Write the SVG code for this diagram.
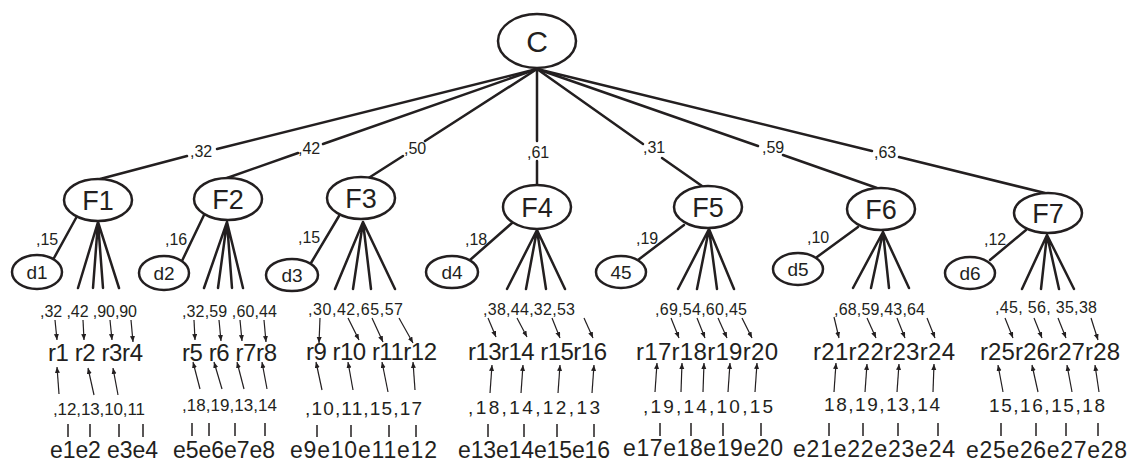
<svg xmlns="http://www.w3.org/2000/svg" width="1130" height="463" viewBox="0 0 1130 463">
<style>
  text { font-family: "Liberation Sans", Arial, sans-serif; fill: #231f20; }
  .node { fill: #fff; stroke: #231f20; stroke-width: 2.5; }
  .edge { stroke: #231f20; stroke-width: 2.5; fill: none; stroke-linecap: round; }
  .arr { stroke: #231f20; stroke-width: 1.2; fill: none; marker-end: url(#ah); }
  .tick { stroke: #231f20; stroke-width: 1.5; }
  .big { font-size: 30px; text-anchor: middle; }
  .fl { font-size: 27px; text-anchor: middle; }
  .dl { font-size: 19px; text-anchor: middle; }
  .el { font-size: 16px; }
  .w1 { font-size: 16px; }
  .rr { font-size: 24px; }
  .w2 { font-size: 17px; }
  .w3 { font-size: 19px; }
  .ee { font-size: 23px; }
</style>
<defs>
  <marker id="ah" markerUnits="userSpaceOnUse" markerWidth="7" markerHeight="6" refX="6" refY="2.5" orient="auto">
    <path d="M0,0 L6,2.5 L0,5 z" fill="#231f20"/>
  </marker>
</defs>

<g id="connectors">
  <!-- C to F -->
  <path class="edge" d="M537,69 L217,149 M187,156 L100,179"/>
  <path class="edge" d="M537,69 L323,144 M298,153 L227,178"/>
  <path class="edge" d="M537,69 L425,141 M403,156 L367,179"/>
  <path class="edge" d="M537,69 L537,141 M537,161 L537,185"/>
  <path class="edge" d="M537,69 L643,144 M662,158 L702,186"/>
  <path class="edge" d="M537,69 L758,146 M783,155 L877,188"/>
  <path class="edge" d="M537,69 L872,151 M899,157 L1045,193"/>
  <!-- F to d -->
  <path class="edge" d="M76,218 L54,258"/>
  <path class="edge" d="M204,215 L181,263"/>
  <path class="edge" d="M339,216 L311,263"/>
  <path class="edge" d="M512,223 L470,260"/>
  <path class="edge" d="M684,225 L638,260"/>
  <path class="edge" d="M858,227 L817,257"/>
  <path class="edge" d="M1026,230 L990,260"/>
  <!-- fans -->
  <path class="edge" d="M98,222 L78,288 M98,222 L93,288 M98,222 L103,288 M98,222 L119,288"/>
  <path class="edge" d="M227,222 L204,288 M227,222 L218,288 M227,222 L232,288 M227,222 L243,288"/>
  <path class="edge" d="M363,222 L335,289 M363,222 L353,289 M363,222 L371,289 M363,222 L395,289"/>
  <path class="edge" d="M537,230 L507,289 M537,230 L526,289 M537,230 L546,289 M537,230 L565,289"/>
  <path class="edge" d="M709,229 L678,289 M709,229 L697,289 M709,229 L717,289 M709,229 L734,289"/>
  <path class="edge" d="M883,232 L853,288 M883,232 L871,288 M883,232 L889,288 M883,232 L909,288"/>
  <path class="edge" d="M1047,235 L1022,289 M1047,235 L1041,289 M1047,235 L1059,289 M1047,235 L1074,289"/>
  <!-- down arrows -->
  <path class="arr" d="M55,320 L57,340"/><path class="arr" d="M83,320 L84,340"/><path class="arr" d="M110,320 L112,340"/><path class="arr" d="M131,320 L133,342"/>
  <path class="arr" d="M194,320 L195,340"/><path class="arr" d="M219,320 L221,341"/><path class="arr" d="M240,320 L242,341"/><path class="arr" d="M264,320 L266,342"/>
  <path class="arr" d="M320,318 L319,343"/><path class="arr" d="M348,318 L359,340"/><path class="arr" d="M372,318 L383,342"/><path class="arr" d="M399,318 L413,343"/>
  <path class="arr" d="M488,318 L496,337"/><path class="arr" d="M517,318 L527,337"/><path class="arr" d="M552,318 L560,338"/><path class="arr" d="M584,318 L593,338"/>
  <path class="arr" d="M671,318 L679,338"/><path class="arr" d="M697,318 L705,338"/><path class="arr" d="M718,318 L727,338"/><path class="arr" d="M742,318 L752,338"/>
  <path class="arr" d="M834,317 L839,338"/><path class="arr" d="M867,318 L876,338"/><path class="arr" d="M897,318 L905,338"/><path class="arr" d="M927,318 L935,338"/>
  <path class="arr" d="M1005,318 L1013,338"/><path class="arr" d="M1034,318 L1042,338"/><path class="arr" d="M1058,318 L1066,338"/><path class="arr" d="M1091,318 L1098,340"/>
  <!-- up arrows -->
  <path class="arr" d="M59,394 L57,367"/><path class="arr" d="M94,395 L88,368"/><path class="arr" d="M118,395 L113,368"/>
  <path class="arr" d="M200,389 L193,362"/><path class="arr" d="M222,389 L214,362"/><path class="arr" d="M244,389 L237,362"/><path class="arr" d="M267,389 L262,362"/>
  <path class="arr" d="M322,390 L316,362"/><path class="arr" d="M353,390 L348,362"/><path class="arr" d="M388,392 L382,362"/><path class="arr" d="M415,390 L413,362"/>
  <path class="arr" d="M490,393 L492,365"/><path class="arr" d="M521,393 L523,365"/><path class="arr" d="M558,393 L560,365"/><path class="arr" d="M592,393 L594,365"/>
  <path class="arr" d="M655,392 L657,363"/><path class="arr" d="M681,392 L682,363"/><path class="arr" d="M703,392 L704,363"/><path class="arr" d="M728,392 L730,363"/><path class="arr" d="M755,392 L757,363"/>
  <path class="arr" d="M834,392 L836,363"/><path class="arr" d="M865,392 L867,364"/><path class="arr" d="M897,392 L899,364"/><path class="arr" d="M933,392 L934,364"/>
  <path class="arr" d="M1003,392 L998,365"/><path class="arr" d="M1038,392 L1032,365"/><path class="arr" d="M1072,392 L1067,365"/><path class="arr" d="M1099,392 L1095,365"/>
  <!-- ticks -->
  <path class="tick" d="M68,424 V437 M90,424 V437 M119,424 V437 M143,424 V437"/>
  <path class="tick" d="M192,423 V436 M209,423 V436 M235,423 V436 M265,423 V436"/>
  <path class="tick" d="M317,425 V437 M351,425 V437 M389,425 V437 M416,425 V437"/>
  <path class="tick" d="M488,424 V437 M524,424 V437 M557,424 V437 M594,424 V437"/>
  <path class="tick" d="M660,423 V436 M691,423 V436 M723,423 V436 M761,423 V436"/>
  <path class="tick" d="M829,423 V436 M863,423 V436 M898,423 V436 M938,423 V436"/>
  <path class="tick" d="M1001,423 V436 M1036,423 V436 M1066,423 V436 M1098,423 V436"/>
  <!-- edge labels -->
  <text class="el" x="190" y="157">,32</text>
  <text class="el" x="298" y="154">,42</text>
  <text class="el" x="404" y="154">,50</text>
  <text class="el" x="527" y="158">,61</text>
  <text class="el" x="643" y="153">,31</text>
  <text class="el" x="762" y="153">,59</text>
  <text class="el" x="874" y="158">,63</text>
  <text class="el" x="36" y="245">,15</text>
  <text class="el" x="165" y="245">,16</text>
  <text class="el" x="298" y="243">,15</text>
  <text class="el" x="465" y="245">,18</text>
  <text class="el" x="636" y="244">,19</text>
  <text class="el" x="807" y="243">,10</text>
  <text class="el" x="984" y="245">,12</text>
</g>

<g id="C"><ellipse class="node" cx="537" cy="41" rx="39" ry="27"/><text class="big" x="537" y="52">C</text></g>

<g id="F1"><ellipse class="node" cx="98" cy="200" rx="34" ry="21"/><text class="fl" x="98" y="210">F1</text></g>
<g id="F2"><ellipse class="node" cx="228" cy="199" rx="34" ry="21"/><text class="fl" x="228" y="209">F2</text></g>
<g id="F3"><ellipse class="node" cx="361" cy="198" rx="34" ry="21"/><text class="fl" x="361" y="208">F3</text></g>
<g id="F4"><ellipse class="node" cx="537" cy="207" rx="34" ry="22"/><text class="fl" x="537" y="217">F4</text></g>
<g id="F5"><ellipse class="node" cx="708" cy="207" rx="34" ry="21"/><text class="fl" x="708" y="217">F5</text></g>
<g id="F6"><ellipse class="node" cx="881" cy="209" rx="34" ry="21"/><text class="fl" x="881" y="219">F6</text></g>
<g id="F7"><ellipse class="node" cx="1048" cy="213" rx="34" ry="20"/><text class="fl" x="1048" y="223">F7</text></g>

<g id="d1"><ellipse class="node" cx="37" cy="272" rx="25" ry="17"/><text class="dl" x="37" y="279">d1</text></g>
<g id="d2"><ellipse class="node" cx="164" cy="273" rx="25" ry="17"/><text class="dl" x="164" y="280">d2</text></g>
<g id="d3"><ellipse class="node" cx="292" cy="275" rx="26" ry="16"/><text class="dl" x="292" y="282">d3</text></g>
<g id="d4"><ellipse class="node" cx="452" cy="272" rx="26" ry="16"/><text class="dl" x="452" y="279">d4</text></g>
<g id="n45"><ellipse class="node" cx="621" cy="272" rx="25" ry="16"/><text class="dl" x="621" y="279">45</text></g>
<g id="d5"><ellipse class="node" cx="798" cy="269" rx="25" ry="16"/><text class="dl" x="798" y="276">d5</text></g>
<g id="d6"><ellipse class="node" cx="970" cy="273" rx="25" ry="16"/><text class="dl" x="970" y="280">d6</text></g>

<g id="branch1">
  <text class="w1" x="40" y="317" textLength="97" lengthAdjust="spacing">,32 ,42 ,90,90</text>
  <text class="rr" x="48" y="361" textLength="95" lengthAdjust="spacing">r1 r2 r3r4</text>
  <text class="w2" x="53" y="415" textLength="92" lengthAdjust="spacing">,12,13,10,11</text>
  <text class="ee" x="50" y="458" textLength="108" lengthAdjust="spacing">e1e2 e3e4</text>
</g>
<g id="branch2">
  <text class="w1" x="182" y="317" textLength="95" lengthAdjust="spacing">,32,59 ,60,44</text>
  <text class="rr" x="182" y="361" textLength="95" lengthAdjust="spacing">r5 r6 r7r8</text>
  <text class="w2" x="182" y="411" textLength="95" lengthAdjust="spacing">,18,19,13,14</text>
  <text class="ee" x="173" y="458" textLength="102" lengthAdjust="spacing">e5e6e7e8</text>
</g>
<g id="branch3">
  <text class="w1" x="308" y="315" textLength="95" lengthAdjust="spacing">,30,42,65,57</text>
  <text class="rr" x="306" y="360" textLength="131" lengthAdjust="spacing">r9 r10 r11r12</text>
  <text class="w3" x="305" y="415" textLength="117" lengthAdjust="spacing">,10,11,15,17</text>
  <text class="ee" x="290" y="458" textLength="147" lengthAdjust="spacing">e9e10e11e12</text>
</g>
<g id="branch4">
  <text class="w1" x="483" y="315" textLength="92" lengthAdjust="spacing">,38,44,32,53</text>
  <text class="rr" x="468" y="360" textLength="139" lengthAdjust="spacing">r13r14 r15r16</text>
  <text class="w3" x="468" y="414" textLength="132" lengthAdjust="spacing">,18,14,12,13</text>
  <text class="ee" x="458" y="458" textLength="152" lengthAdjust="spacing">e13e14e15e16</text>
</g>
<g id="branch5">
  <text class="w1" x="655" y="315" textLength="92" lengthAdjust="spacing">,69,54,60,45</text>
  <text class="rr" x="636" y="360" textLength="142" lengthAdjust="spacing">r17r18r19r20</text>
  <text class="w3" x="643" y="413" textLength="130" lengthAdjust="spacing">,19,14,10,15</text>
  <text class="ee" x="623" y="456" textLength="160" lengthAdjust="spacing">e17e18e19e20</text>
</g>
<g id="branch6">
  <text class="w1" x="834" y="315" textLength="91" lengthAdjust="spacing">,68,59,43,64</text>
  <text class="rr" x="813" y="360" textLength="142" lengthAdjust="spacing">r21r22r23r24</text>
  <text class="w3" x="824" y="411" textLength="116" lengthAdjust="spacing">18,19,13,14</text>
  <text class="ee" x="793" y="457" textLength="162" lengthAdjust="spacing">e21e22e23e24</text>
</g>
<g id="branch7">
  <text class="w1" x="995" y="313" textLength="102" lengthAdjust="spacing">,45, 56, 35,38</text>
  <text class="rr" x="980" y="360" textLength="140" lengthAdjust="spacing">r25r26r27r28</text>
  <text class="w3" x="989" y="412" textLength="116" lengthAdjust="spacing">15,16,15,18</text>
  <text class="ee" x="966" y="458" textLength="161" lengthAdjust="spacing">e25e26e27e28</text>
</g>
</svg>
